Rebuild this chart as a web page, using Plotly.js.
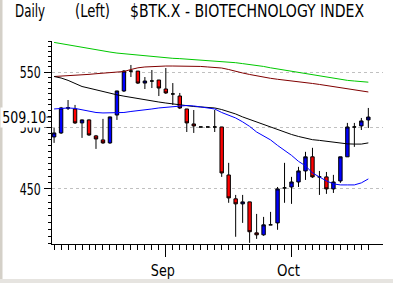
<!DOCTYPE html>
<html>
<head>
<meta charset="utf-8">
<script src="https://cdn.plot.ly/plotly-3.0.1.min.js"></script>
<style>
html,body{margin:0;padding:0;background:#fff;overflow:hidden;}
#chart{width:393px;height:283px;}
</style>
</head>
<body>
<div id="chart"></div>
<script>
// ---- data ----
const dayIndex = [0,1,2,3,4,5,6,7,8,9,10,11,12,13,14,15,16,17,18,19,20,21,22,23,24,25,26,27,28,29,30,31,32,33,34,35,36,37,38,39,40,41,42,43,44,45];
const openP  = [492.0,495.4,517.0,516.2,504.0,506.6,492.9,489.5,487.0,510.9,532.4,550.9,550.9,539.7,541.6,542.5,534.2,529.7,527.8,516.2,503.1,500.5,500.5,500.5,500.5,460.9,442.4,438.6,440.1,417.3,415.9,423.1,424.5,450.8,451.5,455.4,464.1,475.5,459.4,459.4,450.0,456.2,475.5,500.5,501.4,506.6];
const highP  = [499.6,518.0,524.2,519.8,507.0,507.0,493.7,507.5,509.4,532.6,551.9,556.7,551.0,545.3,551.9,542.6,553.8,539.7,530.6,516.3,515.3,500.5,500.5,515.3,500.6,470.6,445.4,445.4,440.2,431.1,428.9,432.6,451.5,470.6,459.4,467.4,479.6,482.9,464.1,463.3,461.0,475.6,504.0,504.0,508.3,517.1];
const lowP   = [487.0,494.5,515.3,503.1,491.2,492.9,482.0,486.2,486.2,506.6,531.5,545.3,538.8,534.2,535.1,527.8,529.7,519.8,516.2,496.2,495.4,500.5,500.5,496.2,459.4,439.4,414.5,424.5,410.2,413.0,415.2,423.0,419.5,439.4,438.6,451.5,457.0,458.6,445.4,446.2,446.9,454.7,475.4,483.7,497.9,499.6];
const closeP = [495.4,517.1,517.2,504.0,506.6,493.7,490.3,487.0,509.2,532.4,550.9,550.9,539.7,541.6,541.6,535.1,530.6,529.7,517.1,504.0,501.4,500.5,500.5,500.5,462.5,443.1,438.6,440.1,418.1,415.9,423.1,423.1,450.0,450.8,455.4,464.1,475.5,459.4,459.4,450.0,455.4,475.5,500.5,500.5,505.7,509.1];

const maGreen  = [578.7,577.5,575.9,574.8,573.7,572.4,570.9,570.0,569.2,568.2,567.5,566.7,566.0,565.4,564.8,564.2,563.5,563.1,562.8,562.3,561.9,561.5,561.0,560.6,560.2,559.7,558.9,558.0,557.2,556.1,555.3,554.0,552.9,551.5,550.4,549.4,548.3,547.2,546.1,545.0,543.8,543.0,542.2,541.6,541.0,540.5];
const maMaroon = [545.8,546.1,546.4,546.7,547.2,547.8,548.4,548.9,549.3,549.6,550.5,552.4,554.0,554.8,555.3,555.5,555.7,555.7,555.7,555.7,555.7,555.3,554.8,554.3,553.8,552.4,550.5,549.1,547.7,546.3,545.1,544.1,543.2,542.5,542.0,541.1,540.2,539.3,538.4,537.4,536.5,535.6,534.7,533.3,532.4,531.5];
const maBlack  = [545.8,544.4,542.2,539.6,536.5,535.0,533.3,532.0,530.2,528.9,527.7,526.5,525.3,524.2,523.3,522.4,521.5,520.6,519.8,518.9,518.4,518.0,517.5,517.1,515.7,514.0,511.8,509.2,507.0,504.4,502.3,500.1,498.4,496.2,494.1,492.4,490.9,489.7,489.1,488.3,487.4,486.6,486.2,486.0,486.0,487.0];
const maBlue   = [516.2,516.7,517.1,516.7,515.3,514.4,513.1,512.7,512.7,512.7,513.1,514.0,514.6,515.3,516.2,517.1,517.7,518.4,519.3,519.3,518.9,518.0,517.5,516.2,513.1,511.0,508.3,504.9,501.0,496.2,492.9,489.5,484.9,480.8,476.7,471.8,468.2,462.5,459.4,456.2,453.9,453.1,453.1,453.1,454.7,457.8];

const monthTickPos = [16, 34];
const monthLabels  = ['Sep', 'Oct'];
const priceTicks   = [450, 500, 550];
const priceLabels  = ['450', '500', '550'];
const lastPrice    = 509.10;
const lastLabel    = '509.10';
const titleParts   = ['Daily', '(Left)', '$BTK.X - BIOTECHNOLOGY INDEX'];

// ---- geometry helpers (pixel -> paper) ----
const W = 393, H = 283, L = 52, R = 10, T = 41, B = 39;
const pw = W - L - R, ph = H - T - B;
const px = v => (v - L) / pw;
const py = v => (H - B - v) / ph;

const FONT = "'Liberation Sans Narrow', 'Arial Narrow', 'DejaVu Sans Condensed', 'Liberation Sans', sans-serif";

// narrow look of the original font: target text widths in px
const fitWidths = {
  'Daily': 30, '(Left)': 35, '$BTK.X - BIOTECHNOLOGY INDEX': 234,
  '450': 21, '500': 21, '550': 21, '509.10': 44, 'Sep': 24, 'Oct': 23
};

const minorY = [];
for (let v = 410; v <= 580; v += 5) if (priceTicks.indexOf(v) < 0) minorY.push(v);

const traces = [
  {
    type: 'candlestick', x: dayIndex, open: openP, high: highP, low: lowP, close: closeP,
    increasing: {line: {color: '#000000', width: 1}, fillcolor: '#0000ff'},
    decreasing: {line: {color: '#000000', width: 1}, fillcolor: '#ff0000'},
    whiskerwidth: 0, hoverinfo: 'skip', showlegend: false
  },
  {type: 'scatter', mode: 'lines', x: dayIndex, y: maGreen,  line: {color: '#00c800', width: 1}, hoverinfo: 'skip', showlegend: false},
  {type: 'scatter', mode: 'lines', x: dayIndex, y: maMaroon, line: {color: '#800000', width: 1}, hoverinfo: 'skip', showlegend: false},
  {type: 'scatter', mode: 'lines', x: dayIndex, y: maBlack,  line: {color: '#000000', width: 1}, hoverinfo: 'skip', showlegend: false},
  {type: 'scatter', mode: 'lines', x: dayIndex, y: maBlue,   line: {color: '#0000ff', width: 1}, hoverinfo: 'skip', showlegend: false}
];

const titleX = [13, 73, 128];
const annotations = titleParts.map((t, i) => ({
  text: t, xref: 'paper', yref: 'paper', x: px(titleX[i]), y: py(11),
  xanchor: 'left', yanchor: 'middle', align: 'left', showarrow: false,
  font: {family: FONT, size: 17, color: '#000'}
}));
annotations.push({
  text: lastLabel, xref: 'paper', yref: 'y', x: px(47), y: Math.log10(lastPrice),
  xanchor: 'right', yanchor: 'middle', align: 'right', showarrow: false, bgcolor: '#ffffff',
  borderpad: 0, font: {family: FONT, size: 16, color: '#000'}
});

const shapes = [
  {type: 'line', xref: 'paper', yref: 'y', x0: px(45), x1: px(52), y0: lastPrice, y1: lastPrice,
   line: {color: '#000', width: 1}},
  {type: 'rect', xref: 'paper', yref: 'paper', x0: px(0), x1: px(2.5), y0: py(283), y1: py(0),
   fillcolor: '#d4d0c8', line: {width: 0}, layer: 'below'},
  {type: 'rect', xref: 'paper', yref: 'paper', x0: px(0), x1: px(393), y0: py(283), y1: py(279),
   fillcolor: '#e6e4e0', line: {width: 0}, layer: 'below'}
];

const layout = {
  width: W, height: H,
  margin: {l: L, r: R, t: T, b: B, pad: 0},
  paper_bgcolor: '#ffffff', plot_bgcolor: '#ffffff',
  font: {family: FONT, size: 16, color: '#000'},
  showlegend: false,
  xaxis: {
    range: [-0.3, 47.1], showline: true, linecolor: '#000', linewidth: 1,
    ticks: 'outside', tickvals: monthTickPos, ticktext: monthLabels, ticklen: 12, tickcolor: '#000', tickwidth: 1,
    minor: {tickvals: dayIndex, ticks: 'outside', ticklen: 5, tickcolor: '#000', tickwidth: 1, showgrid: false},
    showgrid: false, zeroline: false, rangeslider: {visible: false},
    tickfont: {family: FONT, size: 16, color: '#000'}, ticklabelshift: -3, fixedrange: true
  },
  yaxis: {
    type: 'log', range: [Math.log10(409.4), Math.log10(580.1)],
    showline: true, linecolor: '#000', linewidth: 1,
    ticks: 'outside', tickvals: priceTicks, ticktext: priceLabels, ticklen: 7, tickcolor: '#000', tickwidth: 1,
    minor: {tickvals: minorY, ticks: 'outside', ticklen: 3, tickcolor: '#000', tickwidth: 1, showgrid: false},
    showgrid: true, gridcolor: '#c0c0c0', gridwidth: 1, griddash: '3px,3px',
    zeroline: false, tickfont: {family: FONT, size: 16, color: '#000'}, fixedrange: true
  },
  annotations: annotations,
  shapes: shapes
};

Plotly.newPlot('chart', traces, layout, {displayModeBar: false, staticPlot: true}).then(gd => {
  gd.querySelectorAll('svg text').forEach(t => {
    const w = fitWidths[t.textContent];
    if (!w) return;
    const cur = t.getComputedTextLength();
    if (cur > w) {
      t.setAttribute('textLength', w);
      t.setAttribute('lengthAdjust', 'spacingAndGlyphs');
    }
    if (t.textContent === lastLabel) {
      const g = t.closest('.annotation');
      const bg = g && g.querySelector('rect.bg');
      if (bg) {
        const ox = parseFloat(bg.getAttribute('x')) || 0;
        const ow = parseFloat(bg.getAttribute('width')) || 0;
        const nw = w + 2;
        bg.setAttribute('x', ox + ow - nw);
        bg.setAttribute('width', nw);
      }
    }
  });
});
</script>
</body>
</html>
